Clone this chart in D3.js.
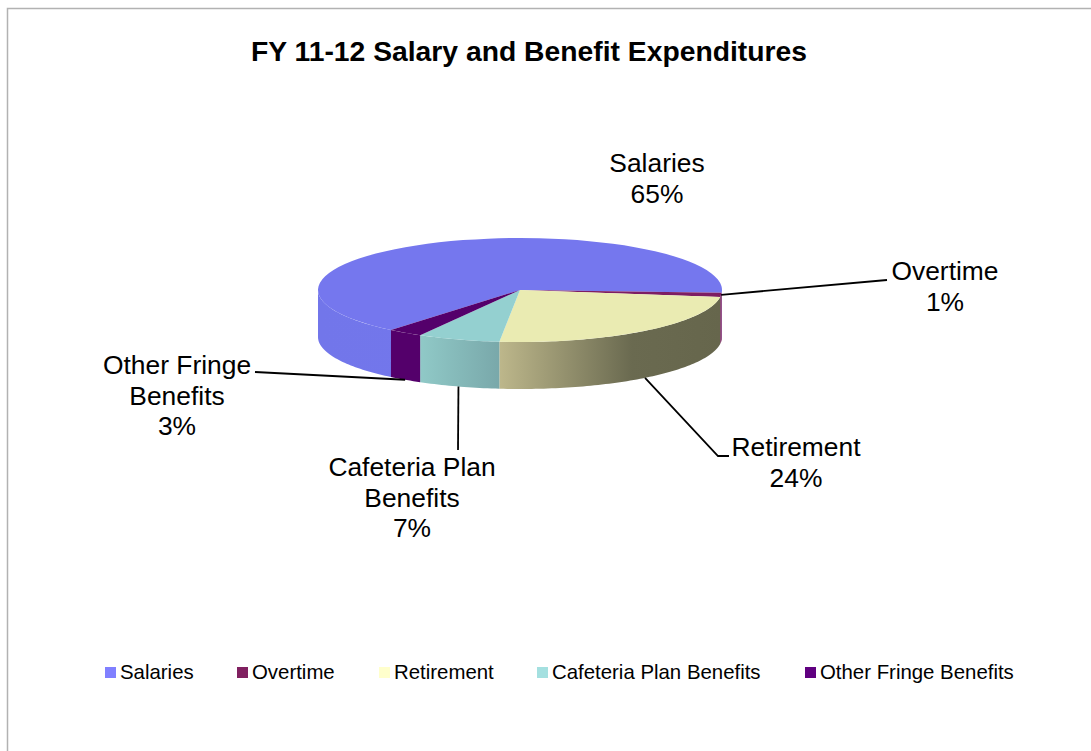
<!DOCTYPE html>
<html><head><meta charset="utf-8">
<script src="https://cdn.jsdelivr.net/npm/d3@7/dist/d3.min.js"></script>
<style>html,body{margin:0;padding:0;background:#fff}svg{display:block}text{font-family:"Liberation Sans",Arial,sans-serif;fill:#000}</style>
</head><body><svg id="c" width="1091" height="751"></svg>
<script>
const categories = ["Salaries","Overtime","Retirement","Cafeteria Plan Benefits","Other Fringe Benefits"];
const shares = [64.8,1.3,24.5,6.6,2.8];
const title = "FY 11-12 Salary and Benefit Expenditures";
const labelLines = [["Salaries","65%"],["Overtime","1%"],["Retirement","24%"],["Cafeteria Plan","Benefits","7%"],["Other Fringe","Benefits","3%"]];
const topColors = ["#7577ee","#7d1d63","#eaebb2","#94d0d0","#54006b"];
const legendColors = ["#8080ff","#802060","#ffffcc","#a4e0e0","#600080"];
const sideStops = [
 [["0","#7276ea"],["0.5","#7377ed"],["1","#7477ee"]],
 [["0","#7a1f62"],["1","#7a1f62"]],
 [["0","#bdb78b"],["0.6","#6a6a50"],["1","#66664c"]],
 [["0","#90c9c7"],["1","#79a8aa"]],
 [["0","#54006b"],["1","#54006b"]]
];
const labelCenters = [[657,172],[945,280],[796,456],[412,476],[177,374]];
const leaderElbows = [null,[[887,280]],[[718,456],[729,456]],[[458,450]],[[255,372]]];
const legendX = [105,237,379,537,805];

const svg = d3.select("#c");
const cx=520, cy=290, rx=202, ry=52, depth=47;
const rad=d=>d*Math.PI/180;
const pie=d3.pie().sort(null).startAngle(rad(219.7)).endAngle(rad(219.7+360));
const arcs=pie(shares);
const pt=(a,dy=0)=>[cx+rx*Math.sin(a),cy+dy-ry*Math.cos(a)];

svg.append("path").attr("d","M1091 8.5H7.5V751").attr("fill","none").attr("stroke","#b2b2b2").attr("stroke-width",1.5);

const defs=svg.append("defs");
const spans=arcs.map(d=>{
  const a=d.startAngle,b=d.endAngle,out=[];
  for(const k of [0,1]){
    const lo=Math.max(a,rad(90)+k*2*Math.PI),hi=Math.min(b,rad(270)+k*2*Math.PI);
    if(hi>lo)out.push([lo,hi]);
  }
  return out;
});
arcs.forEach((d,i)=>{
  const sp=spans[i]; if(!sp.length)return;
  const xs=sp.flat().map(a=>pt(a)[0]);
  const g=defs.append("linearGradient").attr("id","side"+i).attr("gradientUnits","userSpaceOnUse")
    .attr("x1",d3.min(xs)).attr("x2",d3.max(xs)).attr("y1",0).attr("y2",0);
  sideStops[i].forEach(s=>g.append("stop").attr("offset",s[0]).attr("stop-color",s[1]));
});
const line=d3.line();
arcs.forEach((d,i)=>spans[i].forEach(([lo,hi])=>{
  const n=Math.max(2,Math.ceil((hi-lo)/0.02));
  const as=d3.range(n+1).map(k=>lo+(hi-lo)*k/n);
  const p=[...as.map(a=>pt(a)),...as.slice().reverse().map(a=>pt(a,depth))];
  svg.append("path").attr("d",line(p)+"Z").attr("fill",`url(#side${i})`);
}));
const arcGen=d3.arc().innerRadius(0).outerRadius(rx);
svg.append("g").attr("transform",`translate(${cx},${cy}) scale(1,${ry/rx})`)
  .selectAll("path").data(arcs).join("path").attr("d",arcGen).attr("fill",(d,i)=>topColors[i]);

arcs.forEach((d,i)=>{
  if(!leaderElbows[i])return;
  const m=(d.startAngle+d.endAngle)/2;
  const p=[pt(m,i!==1?depth:0),...leaderElbows[i]];
  svg.append("path").attr("d",line(p)).attr("fill","none").attr("stroke","#000").attr("stroke-width",1.8);
});
svg.append("text").attr("x",529).attr("y",61).attr("text-anchor","middle").attr("font-size",28).attr("font-weight","bold").attr("textLength",556).attr("lengthAdjust","spacingAndGlyphs").text(title);
labelLines.forEach((ls,i)=>{
  const [x,y]=labelCenters[i];
  ls.forEach((t,j)=>svg.append("text").attr("x",x).attr("y",y+j*30.5).attr("text-anchor","middle").attr("font-size",26.4).text(t));
});
categories.forEach((c,i)=>{
  svg.append("rect").attr("x",legendX[i]).attr("y",667).attr("width",11).attr("height",11).attr("fill",legendColors[i]);
  svg.append("text").attr("x",legendX[i]+15).attr("y",679).attr("font-size",20.4).text(c);
});
</script></body></html>
